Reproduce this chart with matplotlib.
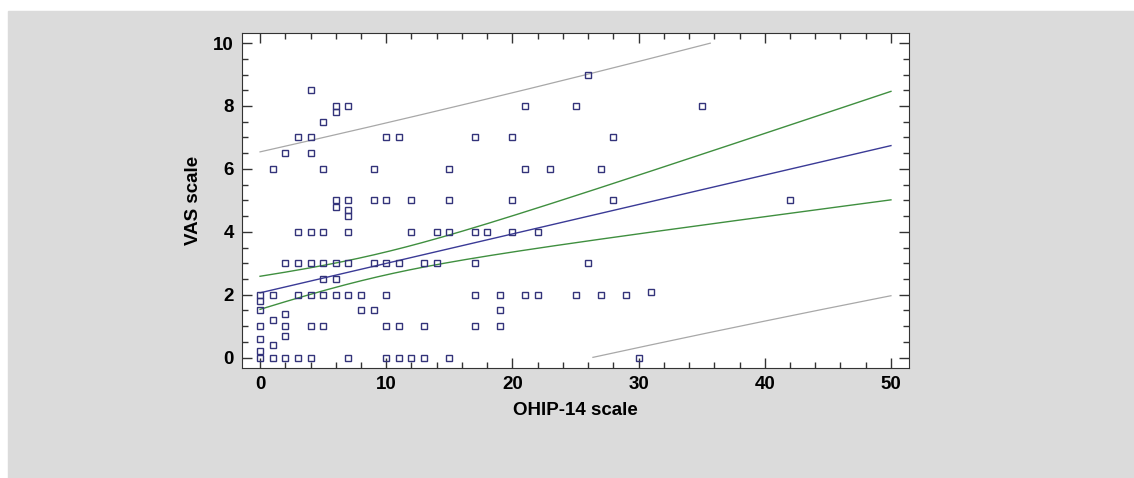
import numpy as np
import matplotlib
matplotlib.use("Agg")
from matplotlib import pyplot as plt
from matplotlib.ticker import MultipleLocator

# OHIP-14 score and VAS score
ohip = [0, 0, 0, 0, 0, 0, 0,
        1, 1, 1, 1, 1,
        2, 2, 2, 2, 2, 2,
        3, 3, 3, 3, 3,
        4, 4, 4, 4, 4, 4, 4, 4,
        5, 5, 5, 5, 5, 5, 5,
        6, 6, 6, 6, 6, 6, 6,
        7, 7, 7, 7, 7, 7, 7, 7,
        8, 8,
        9, 9, 9, 9,
        10, 10, 10, 10, 10, 10,
        11, 11, 11, 11,
        12, 12, 12,
        13, 13, 13,
        14, 14,
        15, 15, 15, 15,
        17, 17, 17, 17, 17,
        18,
        19, 19, 19,
        20, 20, 20,
        21, 21, 21,
        22, 22,
        23,
        25, 25,
        26, 26,
        27, 27,
        28, 28,
        29, 30, 31, 35, 42]
vas = [2, 1.8, 1.5, 1, 0.6, 0.2, 0,
       6, 2, 1.2, 0.4, 0,
       6.5, 3, 1.4, 1, 0.7, 0,
       7, 4, 3, 2, 0,
       8.5, 7, 6.5, 4, 3, 2, 1, 0,
       7.5, 6, 4, 3, 2.5, 2, 1,
       8, 7.8, 5, 4.8, 3, 2.5, 2,
       8, 5, 4.7, 4.5, 4, 3, 2, 0,
       2, 1.5,
       6, 5, 3, 1.5,
       7, 5, 3, 2, 1, 0,
       7, 3, 1, 0,
       5, 4, 0,
       3, 1, 0,
       4, 3,
       6, 5, 4, 0,
       7, 4, 3, 2, 1,
       4,
       2, 1.5, 1,
       7, 5, 4,
       8, 6, 2,
       4, 2,
       6,
       8, 2,
       9, 3,
       6, 2,
       7, 5,
       2, 0, 2.1, 8, 5]

# fitted model as drawn in the chart (many points overlap, so the
# fit is read from the plotted lines rather than refitted)
intercept = 2.06
slope = 0.0936
t_s = 4.45        # t * residual standard error
n_obs = 150
x_mean = 9.2
sxx = 11600.0

x = np.array(ohip, dtype=float)
y = np.array(vas, dtype=float)

xs = np.linspace(0, 50, 200)
fit = intercept + slope * xs
h_mean = t_s * np.sqrt(1 / n_obs + (xs - x_mean) ** 2 / sxx)
h_pred = t_s * np.sqrt(1 + 1 / n_obs + (xs - x_mean) ** 2 / sxx)


def clip(v):
    return np.where((v >= 0) & (v <= 10), v, np.nan)


fig = plt.figure(figsize=(11.34, 4.78), dpi=100, facecolor="white")
# grey panel behind the chart
fig.patches.append(plt.Rectangle((8 / 1134, 0), 1, 1 - 11 / 478,
                                 transform=fig.transFigure, color="#dbdbdb", zorder=-10))
ax = fig.add_axes([242 / 1134, 1 - 368 / 478, (909 - 242) / 1134, (368 - 33) / 478])
ax.set_zorder(5)
ax.set_facecolor("white")

ax.plot(xs, clip(fit + h_pred), color="#a8a8a8", lw=0.9)
ax.plot(xs, clip(fit - h_pred), color="#a8a8a8", lw=0.9)
ax.plot(xs, fit + h_mean, color="#3f8f3f", lw=1.0)
ax.plot(xs, fit - h_mean, color="#3f8f3f", lw=1.0)
ax.plot(xs, fit, color="#3a3a96", lw=1.0)
ax.plot(x, y, ls="none", marker="s", ms=5, mfc="none", mec="#33337a", mew=1.0)

ax.set_xlim(-1.43, 51.43)
ax.set_ylim(-0.33, 10.32)
ax.xaxis.set_major_locator(MultipleLocator(10))
ax.xaxis.set_minor_locator(MultipleLocator(2))
ax.yaxis.set_major_locator(MultipleLocator(2))
ax.yaxis.set_minor_locator(MultipleLocator(0.5))
ax.tick_params(which="both", direction="in", top=True, right=True, width=1, color="#333333")
ax.tick_params(which="major", length=7, labelsize=13.5, pad=6)
ax.tick_params(which="minor", length=4)
for lab in ax.get_xticklabels() + ax.get_yticklabels():
    lab.set_fontweight("bold")
    lab.set_fontfamily("Liberation Sans")
for sp in ax.spines.values():
    sp.set_color("#333333")

ax.set_xlabel("OHIP-14 scale", fontsize=13.5, fontweight="bold", family="Liberation Sans", labelpad=6)
ax.set_ylabel("VAS scale", fontsize=13.5, fontweight="bold", family="Liberation Sans", labelpad=8)

plt.savefig("out.png", dpi=100, facecolor="white")
